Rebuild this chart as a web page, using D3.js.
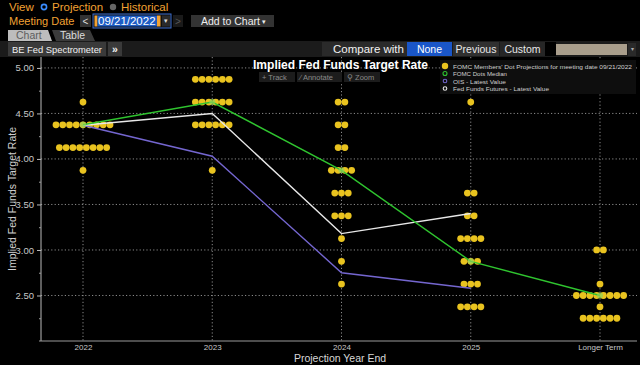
<!DOCTYPE html>
<html><head><meta charset="utf-8">
<script src="https://cdn.jsdelivr.net/npm/d3@7"></script>
<style>
html,body{margin:0;padding:0;background:#000;}
svg{display:block;}
text{font-family:"Liberation Sans",Arial,sans-serif;}
</style></head>
<body>
<svg id="chart" width="640" height="365"></svg>
<script>
// ---- data ----
const categories = ["2022", "2023", "2024", "2025", "Longer Term"];
const dots2022 = [[4.625, 1], [4.375, 9], [4.125, 8], [3.875, 1]];
const dots2023 = [[4.875, 6], [4.625, 6], [4.375, 6], [3.875, 1]];
const dots2024 = [[4.625, 2], [4.375, 2], [4.125, 2], [3.875, 4], [3.625, 3], [3.375, 3], [3.125, 1], [2.875, 1], [2.625, 1]];
const dots2025 = [[4.625, 1], [3.625, 2], [3.375, 2], [3.125, 4], [2.875, 3], [2.625, 3], [2.375, 4]];
const dotsLonger = [[3.0, 2], [2.625, 1], [2.5, 8], [2.375, 1], [2.25, 6]];
const medianValues = [4.375, 4.625, 3.875, 2.875, 2.5];
const oisValues = [4.37, 4.03, 2.75, 2.58];
const futuresValues = [4.37, 4.50, 3.18, 3.40];
const yTicks = [2.5, 3.0, 3.5, 4.0, 4.5, 5.0];
const yMinorTicks = [2.25, 2.75, 3.25, 3.75, 4.25, 4.75];
const legendLabels = ["FOMC Members' Dot Projections for meeting date 09/21/2022", "FOMC Dots Median", "OIS - Latest Value", "Fed Funds Futures - Latest Value"];

const dotSets = [dots2022, dots2023, dots2024, dots2025, dotsLonger];

const svg = d3.select("#chart");
const orange = "#f2a233";
const dotColor = "#e9c31f";
const greenC = "#2fc42f";
const purpleC = "#7466cf";
const whiteC = "#e8e8e8";

// ---- header UI ----
const hdr = svg.append("g");
hdr.append("text").attr("x", 9).attr("y", 11).attr("fill", orange).attr("font-size", 11.5).text("View");
hdr.append("circle").attr("cx", 44).attr("cy", 7).attr("r", 2.6).attr("fill", "none").attr("stroke", "#3a8cff").attr("stroke-width", 1.6);
hdr.append("text").attr("x", 52).attr("y", 11).attr("fill", orange).attr("font-size", 11.5).text("Projection");
hdr.append("circle").attr("cx", 113).attr("cy", 7).attr("r", 3.2).attr("fill", "#666");
hdr.append("text").attr("x", 121).attr("y", 11).attr("fill", orange).attr("font-size", 11.5).text("Historical");

hdr.append("text").attr("x", 9).attr("y", 25).attr("fill", orange).attr("font-size", 11).text("Meeting Date");
hdr.append("rect").attr("x", 80).attr("y", 15).attr("width", 11).attr("height", 12).attr("fill", "#333");
hdr.append("text").attr("x", 85.5).attr("y", 25).attr("fill", "#ddd").attr("font-size", 10).attr("text-anchor", "middle").text("<");
hdr.append("rect").attr("x", 93).attr("y", 14).attr("width", 78).attr("height", 14).attr("fill", "#111").attr("stroke", "#3c6fd0").attr("stroke-width", 1);
hdr.append("rect").attr("x", 94.5).attr("y", 15.5).attr("width", 3).attr("height", 11).attr("fill", orange);
hdr.append("rect").attr("x", 97.5).attr("y", 15.5).attr("width", 59.5).attr("height", 11).attr("fill", "#1d5cc4");
hdr.append("rect").attr("x", 157).attr("y", 15.5).attr("width", 3.5).attr("height", 11).attr("fill", orange);
hdr.append("text").attr("x", 98).attr("y", 25).attr("fill", "#fff").attr("font-size", 11.5).text("09/21/2022");
hdr.append("rect").attr("x", 162).attr("y", 15.5).attr("width", 8).attr("height", 11).attr("fill", "#2a2a2a");
hdr.append("text").attr("x", 166).attr("y", 23).attr("fill", "#ddd").attr("font-size", 7).attr("text-anchor", "middle").text("▾");
hdr.append("rect").attr("x", 173).attr("y", 15).attr("width", 10).attr("height", 12).attr("fill", "#1a1a1a");
hdr.append("text").attr("x", 178).attr("y", 25).attr("fill", "#555").attr("font-size", 10).attr("text-anchor", "middle").text(">");
hdr.append("rect").attr("x", 191).attr("y", 15).attr("width", 83).attr("height", 12).attr("fill", "#333");
hdr.append("text").attr("x", 201).attr("y", 25).attr("fill", "#eee").attr("font-size", 10.5).text("Add to Chart");
hdr.append("text").attr("x", 262).attr("y", 24).attr("fill", "#eee").attr("font-size", 7).text("▾");

// tabs
hdr.append("path").attr("d", "M8,30 L48,30 L52,41 L8,41 Z").attr("fill", "#bdbdbd");
hdr.append("text").attr("x", 16).attr("y", 39).attr("fill", "#5d5d5d").attr("font-size", 10.5).text("Chart");
hdr.append("path").attr("d", "M52,30 L90,30 L95,41 L56,41 Z").attr("fill", "#3b3b3b");
hdr.append("text").attr("x", 60).attr("y", 39).attr("fill", "#ddd").attr("font-size", 10.5).text("Table");

// strip
hdr.append("rect").attr("x", 0).attr("y", 41).attr("width", 640).attr("height", 16).attr("fill", "#1b1b1b");
hdr.append("rect").attr("x", 8).attr("y", 42).attr("width", 98).attr("height", 14).attr("fill", "#3a3a3a");
hdr.append("text").attr("x", 12).attr("y", 53).attr("fill", "#f2f2f2").attr("font-size", 9.5)
  .attr("textLength", 90).attr("lengthAdjust", "spacingAndGlyphs").text("BE Fed Spectrometer");
hdr.append("rect").attr("x", 108).attr("y", 42).attr("width", 14).attr("height", 14).attr("fill", "#3a3a3a");
hdr.append("text").attr("x", 115).attr("y", 53).attr("fill", "#f2f2f2").attr("font-size", 10.5).attr("font-weight", "bold").attr("text-anchor", "middle").text("»");
hdr.append("rect").attr("x", 322).attr("y", 42).attr("width", 85).attr("height", 14).attr("fill", "#2a2a2a");
hdr.append("text").attr("x", 333).attr("y", 53).attr("fill", "#f2f2f2").attr("font-size", 11.5).text("Compare with");
hdr.append("rect").attr("x", 407).attr("y", 42).attr("width", 45).attr("height", 14).attr("fill", "#1a56c8");
hdr.append("text").attr("x", 429.5).attr("y", 53).attr("fill", "#fff").attr("font-size", 10.5).attr("text-anchor", "middle").text("None");
hdr.append("rect").attr("x", 453).attr("y", 42).attr("width", 46).attr("height", 14).attr("fill", "#303030");
hdr.append("text").attr("x", 476).attr("y", 53).attr("fill", "#e8e8e8").attr("font-size", 10.5).attr("text-anchor", "middle").text("Previous");
hdr.append("rect").attr("x", 500).attr("y", 42).attr("width", 45).attr("height", 14).attr("fill", "#262626");
hdr.append("text").attr("x", 522.5).attr("y", 53).attr("fill", "#e8e8e8").attr("font-size", 10.5).attr("text-anchor", "middle").text("Custom");
hdr.append("rect").attr("x", 545).attr("y", 42).attr("width", 11).attr("height", 14).attr("fill", "#000");
hdr.append("rect").attr("x", 556).attr("y", 44).attr("width", 71).attr("height", 11).attr("fill", "#a99e8c");
hdr.append("rect").attr("x", 628).attr("y", 43).attr("width", 8).attr("height", 13).attr("fill", "#2a2a2a");
hdr.append("text").attr("x", 632).attr("y", 51).attr("fill", "#aaa").attr("font-size", 6).attr("text-anchor", "middle").text("▾");

// ---- plot ----
const x = d3.scalePoint().domain(categories).range([83, 600]);
const y = d3.scaleLinear().domain([2.0, 5.12]).range([341, 57]);
const plotL = 41, plotR = 637, plotT = 57, plotB = 341;

const grid = svg.append("g");
grid.selectAll("line.h").data(yTicks).join("line")
  .attr("x1", plotL).attr("x2", plotR).attr("y1", d => y(d)).attr("y2", d => y(d))
  .attr("stroke", "#8a8a8a").attr("stroke-width", 1).attr("stroke-dasharray", "1.2,2.2");
grid.selectAll("line.v").data(categories).join("line")
  .attr("x1", d => x(d)).attr("x2", d => x(d)).attr("y1", plotT).attr("y2", plotB)
  .attr("stroke", "#8a8a8a").attr("stroke-width", 1).attr("stroke-dasharray", "1.2,2.2");

// y axis
const yAxis = svg.append("g").attr("transform", `translate(${plotL},0)`)
  .call(d3.axisLeft(y).tickValues(yTicks).tickFormat(d3.format(".2f")).tickSize(4).tickPadding(3));
yAxis.select(".domain").attr("stroke", "#bbb").attr("d", `M0,${plotT}V${plotB}`);
yAxis.selectAll(".tick line").attr("stroke", "#bbb");
yAxis.selectAll(".tick text").attr("fill", "#c8c8c8").attr("font-size", 9.5).attr("font-family", "Liberation Sans, Arial");
svg.append("g").attr("transform", `translate(${plotL},0)`)
  .call(d3.axisLeft(y).tickValues(yMinorTicks).tickFormat("").tickSize(2))
  .call(g => g.select(".domain").remove())
  .selectAll(".tick line").attr("stroke", "#999");

// x axis
const xAxis = svg.append("g").attr("transform", `translate(0,${plotB})`)
  .call(d3.axisBottom(x).tickSize(0).tickPadding(3));
xAxis.select(".domain").attr("stroke", "#9a9a9a").attr("d", `M${plotL - 2},0H${plotR}`);
xAxis.selectAll(".tick text").attr("fill", "#c8c8c8").attr("font-size", 8).attr("font-family", "Liberation Sans, Arial");

svg.append("text").attr("x", 340).attr("y", 362).attr("text-anchor", "middle")
  .attr("fill", "#d8d8d8").attr("font-size", 10.5).text("Projection Year End");
svg.append("text").attr("transform", "translate(16,199) rotate(-90)").attr("text-anchor", "middle")
  .attr("fill", "#d0d0d0").attr("font-size", 10.5).text("Implied Fed Funds Target Rate");

// dots
const dotSpacing = 6.75;
const dotData = [];
dotSets.forEach((set, ci) => {
  set.forEach(([rate, n]) => {
    for (let i = 0; i < n; i++) {
      dotData.push({ cat: categories[ci], rate, off: (i - (n - 1) / 2) * dotSpacing });
    }
  });
});
svg.append("g").selectAll("circle").data(dotData).join("circle")
  .attr("cx", d => x(d.cat) + d.off).attr("cy", d => y(d.rate)).attr("r", 3.4)
  .attr("fill", dotColor);

// lines
const line = d3.line().x((d, i) => x(categories[i])).y(d => y(d));
svg.append("path").datum(oisValues).attr("d", line).attr("fill", "none").attr("stroke", purpleC).attr("stroke-width", 1.4);
svg.append("path").datum(futuresValues).attr("d", line).attr("fill", "none").attr("stroke", whiteC).attr("stroke-width", 1.4);
svg.append("path").datum(medianValues).attr("d", line).attr("fill", "none").attr("stroke", greenC).attr("stroke-width", 1.4);
svg.append("g").selectAll("circle").data(medianValues).join("circle")
  .attr("cx", (d, i) => x(categories[i])).attr("cy", d => y(d)).attr("r", 3)
  .attr("fill", "#8fd35a").attr("opacity", 0.7);

// title + toolbar
svg.append("text").attr("x", 253).attr("y", 69).attr("fill", "#fff").attr("font-size", 12.5)
  .attr("font-weight", "bold").attr("textLength", 175).attr("lengthAdjust", "spacingAndGlyphs")
  .text("Implied Fed Funds Target Rate");
const tb = svg.append("g");
tb.append("rect").attr("x", 259).attr("y", 72).attr("width", 36).attr("height", 10).attr("fill", "#1c1c1c");
tb.append("rect").attr("x", 297).attr("y", 72).attr("width", 45).attr("height", 10).attr("fill", "#1c1c1c");
tb.append("rect").attr("x", 344).attr("y", 72).attr("width", 36).attr("height", 10).attr("fill", "#1c1c1c");
tb.append("text").attr("x", 262).attr("y", 80).attr("fill", "#8a8a8a").attr("font-size", 7.5).text("+ Track");
tb.append("text").attr("x", 300).attr("y", 80).attr("fill", "#8a8a8a").attr("font-size", 7.5).text("∕ Annotate");
tb.append("text").attr("x", 347).attr("y", 80).attr("fill", "#8a8a8a").attr("font-size", 7.5).text("⚲ Zoom");

// legend
const lg = svg.append("g");
lg.append("rect").attr("x", 440).attr("y", 60).attr("width", 196).attr("height", 34).attr("fill", "#0e0e0e");
const legendY = [66, 73.5, 81, 88.5];
lg.append("circle").attr("cx", 445).attr("cy", legendY[0]).attr("r", 3.2).attr("fill", dotColor);
lg.append("circle").attr("cx", 445).attr("cy", legendY[1]).attr("r", 2).attr("fill", "none").attr("stroke", greenC).attr("stroke-width", 1.1);
lg.append("circle").attr("cx", 445).attr("cy", legendY[2]).attr("r", 1.8).attr("fill", "none").attr("stroke", purpleC).attr("stroke-width", 1.1);
lg.append("circle").attr("cx", 445).attr("cy", legendY[3]).attr("r", 1.8).attr("fill", "none").attr("stroke", whiteC).attr("stroke-width", 1.1);
const legendLen = [179, 54, 53, 96];
lg.selectAll("text").data(legendLabels).join("text")
  .attr("x", 453).attr("y", (d, i) => legendY[i] + 2.5)
  .attr("fill", "#cfcfcf").attr("font-size", 6.2)
  .attr("textLength", (d, i) => legendLen[i]).attr("lengthAdjust", "spacingAndGlyphs")
  .text(d => d);
</script>
</body></html>
